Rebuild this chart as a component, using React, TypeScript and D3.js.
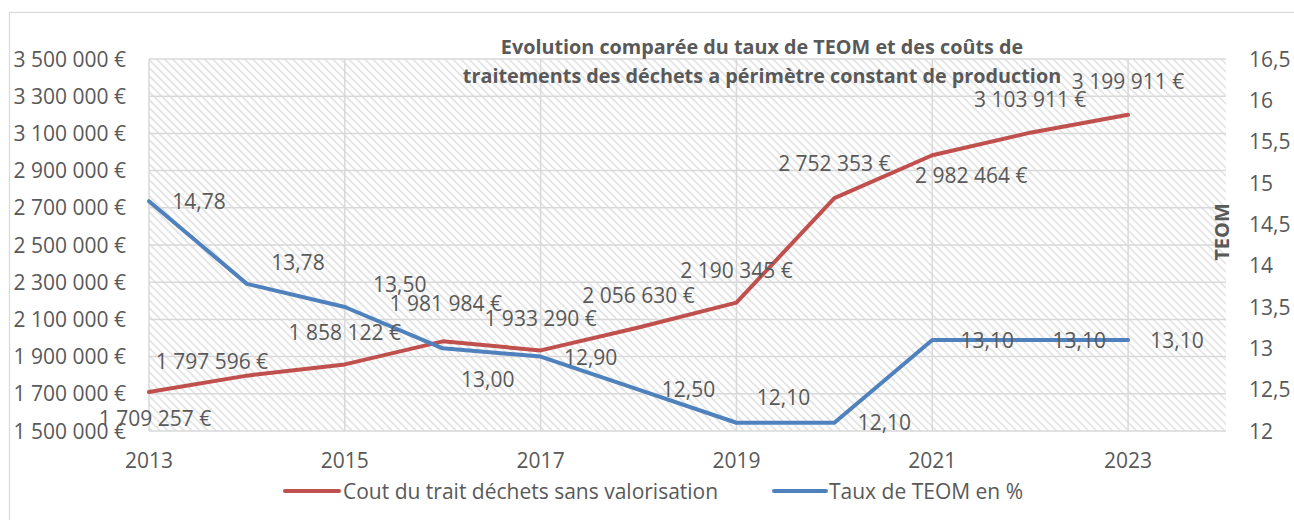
import React from "react";
import * as d3 from "d3";

const years = [2013, 2014, 2015, 2016, 2017, 2018, 2019, 2020, 2021, 2022, 2023];
const costValues = [1709257, 1797596, 1858122, 1981984, 1933290, 2056630, 2190345, 2752353, 2982464, 3103911, 3199911];
const teomValues = [14.78, 13.78, 13.5, 13.0, 12.9, 12.5, 12.1, 12.1, 13.1, 13.1, 13.1];
const xTicks = [2013, 2015, 2017, 2019, 2021, 2023];
const leftTicks = [1500000, 1700000, 1900000, 2100000, 2300000, 2500000, 2700000, 2900000, 3100000, 3300000, 3500000];
const rightTicks = [12, 12.5, 13, 13.5, 14, 14.5, 15, 15.5, 16, 16.5];
const titleLines = [
  "Evolution comparée du taux de TEOM et des coûts de",
  "traitements des déchets a périmètre constant de production",
];
const seriesNames = ["Cout du trait déchets sans valorisation", "Taux de TEOM en %"];

// label offsets (style/position only)
const costLabelOffsets: [number, number][] = [
  [6, 26], [-35, -14], [0, -32], [3, -38], [0, -32], [0, -32], [0, -32], [0, -35], [39, 20], [0, -33], [0, -33],
];
const teomLabelOffsets: [number, number][] = [
  [50, 0], [51, -21], [55, -23], [45, 31], [50, 1], [50, 0], [47, -25], [50, 0], [55, 0], [49, 0], [49, 0],
];

const RED = "#C0504D";
const BLUE = "#4F81BD";
const TEXT = "#595959";
const GRID = "#d9d9d9";
const FONT = "'Open Sans', 'Liberation Sans', sans-serif";

const fmtEuro = (v: number) => {
  const s = Math.round(v).toString().replace(/\B(?=(\d{3})+(?!\d))/g, " ");
  return s + " €";
};
const fmtRight = (v: number) => (Number.isInteger(v) ? String(v) : String(v).replace(".", ","));
const fmtPct = (v: number) => v.toFixed(2).replace(".", ",");

export default function App() {
  const W = 1294, H = 520;
  const left = 149, right = 1226, top = 59, bottom = 431;

  const x = d3.scaleLinear().domain([2013, 2024]).range([left, right]);
  const yL = d3.scaleLinear().domain([1500000, 3500000]).range([bottom, top]);
  const yR = d3.scaleLinear().domain([12, 16.5]).range([bottom, top]);

  const costLine = d3.line<number>().x((_, i) => x(years[i])).y((d) => yL(d));
  const teomLine = d3.line<number>().x((_, i) => x(years[i])).y((d) => yR(d));

  return (
    <svg width={W} height={H} style={{ position: "absolute", left: 0, top: 0, fontFamily: FONT }}>
      <defs>
        <pattern id="hatch" width={5.66} height={5.66} patternUnits="userSpaceOnUse" patternTransform="rotate(-45)">
          <rect width={5.66} height={5.66} fill="#ffffff" />
          <line x1={1} y1={0} x2={1} y2={5.66} stroke="#e4e4e4" strokeWidth={1.8} />
        </pattern>
      </defs>
      <rect x={0} y={0} width={W} height={H} fill="#ffffff" />
      <rect x={9.5} y={12.5} width={W + 10} height={H + 10} fill="#ffffff" stroke="#d9d9d9" strokeWidth={1.2} />

      {/* plot area */}
      <rect x={left} y={top} width={right - left} height={bottom - top} fill="url(#hatch)" />
      {leftTicks.map((t) => (
        <line key={"h" + t} x1={left} x2={right} y1={yL(t)} y2={yL(t)} stroke={GRID} strokeWidth={1.5} />
      ))}
      {xTicks.map((t) => (
        <line key={"v" + t} x1={x(t)} x2={x(t)} y1={top} y2={bottom} stroke={GRID} strokeWidth={1.5} />
      ))}

      {/* left axis labels */}
      {leftTicks.map((t) => (
        <text key={"l" + t} x={126} y={yL(t)} dy="0.36em" textAnchor="end" fontSize={21} fill={TEXT}>
          {fmtEuro(t)}
        </text>
      ))}
      {/* right axis labels */}
      {rightTicks.map((t) => (
        <text key={"r" + t} x={1249} y={yR(t)} dy="0.36em" textAnchor="start" fontSize={21} fill={TEXT}>
          {fmtRight(t)}
        </text>
      ))}
      {/* x axis labels */}
      {xTicks.map((t) => (
        <text key={"x" + t} x={x(t)} y={468} textAnchor="middle" fontSize={21} fill={TEXT}>
          {t}
        </text>
      ))}

      {/* right axis title */}
      <text transform={`translate(1229,232) rotate(-90)`} textAnchor="middle" fontSize={20} fontWeight="bold" fill={TEXT}>
        TEOM
      </text>

      {/* lines */}
      <path d={costLine(costValues) || ""} fill="none" stroke={RED} strokeWidth={4} strokeLinejoin="round" strokeLinecap="round" />
      <path d={teomLine(teomValues) || ""} fill="none" stroke={BLUE} strokeWidth={4} strokeLinejoin="round" strokeLinecap="round" />

      {/* data labels */}
      {costValues.map((v, i) => (
        <text key={"cl" + i} x={x(years[i]) + costLabelOffsets[i][0]} y={yL(v) + costLabelOffsets[i][1]} dy="0.36em" textAnchor="middle" fontSize={21} fill={TEXT}>
          {fmtEuro(v)}
        </text>
      ))}
      {teomValues.map((v, i) => (
        <text key={"tl" + i} x={x(years[i]) + teomLabelOffsets[i][0]} y={yR(v) + teomLabelOffsets[i][1]} dy="0.36em" textAnchor="middle" fontSize={21} fill={TEXT}>
          {fmtPct(v)}
        </text>
      ))}

      {/* title */}
      {titleLines.map((l, i) => (
        <text key={"t" + i} x={762} y={54 + i * 29} textAnchor="middle" fontSize={19.8} fontWeight="bold" fill={TEXT}>
          {l}
        </text>
      ))}

      {/* legend */}
      <line x1={285} x2={339} y1={491} y2={491} stroke={RED} strokeWidth={4} strokeLinecap="round" />
      <text x={343} y={491} dy="0.36em" fontSize={21} fill={TEXT}>{seriesNames[0]}</text>
      <line x1={774} x2={826} y1={491} y2={491} stroke={BLUE} strokeWidth={4} strokeLinecap="round" />
      <text x={829} y={491} dy="0.36em" fontSize={21} fill={TEXT}>{seriesNames[1]}</text>
    </svg>
  );
}
